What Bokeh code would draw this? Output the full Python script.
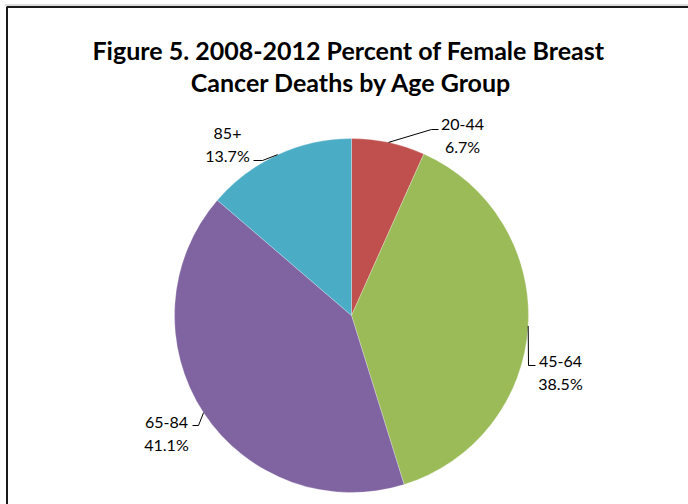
import math
from bokeh.plotting import figure
from bokeh.models import Range1d, ColumnDataSource
from bokeh.core.properties import value
from bokeh.embed import file_html
from bokeh.resources import INLINE

# ---- data ----
categories = ["20-44", "45-64", "65-84", "85+"]
percents = [6.7, 38.5, 41.1, 13.7]
colors = ["#C0504D", "#9BBB59", "#8064A2", "#4BACC6"]
title_lines = ["Figure 5.  2008-2012 Percent of Female Breast",
               "Cancer Deaths by Age Group"]

# ---- layout (pixel coords, top-down) ----
W, H = 688, 504
CX, CY, R = 351, 315, 177
# label centers: (name_x, name_y, pct_y)
label_pos = {
    "20-44": (462, 124, 146),
    "45-64": (560, 361, 383),
    "65-84": (166, 422, 444),
    "85+":   (227, 133, 155),
}
# leader line elbow and end points
leader_pts = {
    "20-44": [(431, 129), (438, 129)],
    "45-64": [(528, 365), (535, 365)],
    "65-84": [(198, 425), (192, 425)],
    "85+":   [(262, 160), (253, 160)],
}

def fy(y):
    return H - y

p = figure(width=W, height=H, output_backend="svg", toolbar_location=None,
           x_range=Range1d(0, W), y_range=Range1d(0, H),
           min_border=0, outline_line_color=None)
p.axis.visible = False
p.grid.visible = False
p.background_fill_color = "white"
p.border_fill_color = "white"

# border of chart area
p.line([6.5, 6.5, W + 5], [fy(H + 5), fy(6.5), fy(6.5)], line_color="#1a1a1a", line_width=2)
p.line([4.5, W + 5], [fy(4.5), fy(4.5)], line_color="#bbbbbb", line_width=1)

# wedges (clockwise from top)
total = sum(percents)
starts, ends, mids = [], [], []
cum = 0.0
for v in percents:
    a0 = math.pi / 2 - 2 * math.pi * cum / total
    cum += v
    a1 = math.pi / 2 - 2 * math.pi * cum / total
    starts.append(a1)
    ends.append(a0)
    mids.append((a0 + a1) / 2)

src = ColumnDataSource(dict(x=[CX] * len(categories), y=[fy(CY)] * len(categories),
                            start=starts, end=ends, color=colors, cat=categories))
p.wedge(x="x", y="y", radius=R, start_angle="start", end_angle="end",
        direction="anticlock", fill_color="color", line_color="white",
        line_width=0.5, line_alpha=0.5, source=src)

# leader lines
for cat, m in zip(categories, mids):
    ex = CX + R * math.cos(m)
    ey = fy(CY) + R * math.sin(m)
    pts = leader_pts[cat]
    xs = [ex] + [q[0] for q in pts]
    ys = [ey] + [fy(q[1]) for q in pts]
    p.line(xs, ys, line_color="#000000", line_width=1)

# labels
lx = [label_pos[c][0] for c in categories]
ny = [fy(label_pos[c][1]) for c in categories]
py = [fy(label_pos[c][2]) for c in categories]
pct_txt = [f"{v:.1f}%" for v in percents]
p.text(x=lx, y=ny, text=categories, text_font=value("Lato"), text_font_size="16px",
       text_align="center", text_baseline="middle", text_color="#000000")
p.text(x=lx, y=py, text=pct_txt, text_font=value("Lato"), text_font_size="16px",
       text_align="center", text_baseline="middle", text_color="#000000")

# title
p.text(x=[351, 351], y=[fy(49), fy(81)], text=title_lines, text_font=value("Lato"),
       text_font_size="25px", text_font_style="bold", text_align="center",
       text_baseline="alphabetic", text_color="#000000")

open("out.html", "w").write(file_html(p, INLINE))
